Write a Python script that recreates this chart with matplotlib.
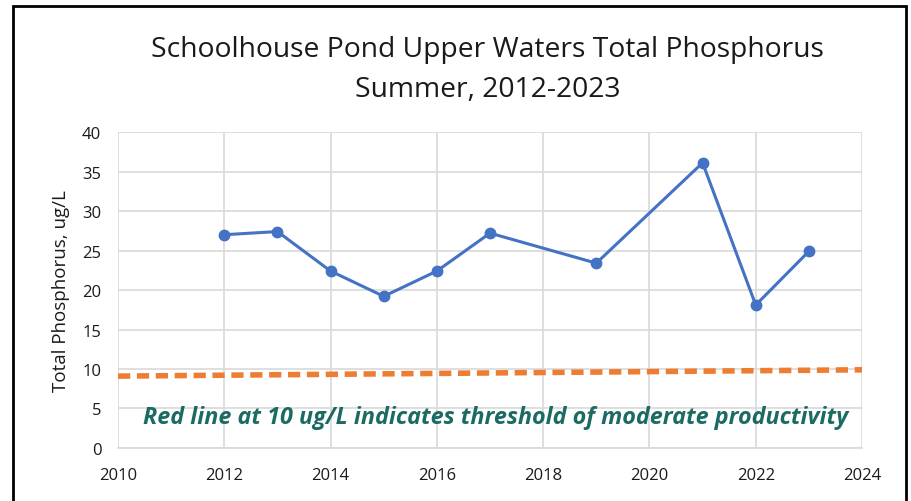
import matplotlib
matplotlib.use("Agg")
import matplotlib.pyplot as plt
from matplotlib.patches import Rectangle

years = [2012, 2013, 2014, 2015, 2016, 2017, 2019, 2021, 2022, 2023]
phosphorus = [27.0, 27.4, 22.4, 19.2, 22.4, 27.2, 23.4, 36.1, 18.1, 24.9]

threshold_x = [2010, 2024]
threshold_y = [9.1, 9.9]

x_ticks = [2010, 2012, 2014, 2016, 2018, 2020, 2022, 2024]
y_ticks = [0, 5, 10, 15, 20, 25, 30, 35, 40]

plt.rcParams['font.family'] = ['Open Sans', 'DejaVu Sans']

fig = plt.figure(figsize=(9.12, 5.02), dpi=100)
ax = fig.add_axes([0.1294, 0.1056, 0.8158, 0.6294])

# border around the whole chart
fig.patches.append(Rectangle((13 / 912, -0.05), (906 - 13) / 912, 1.05 - 7 / 502,
                             transform=fig.transFigure, fill=False,
                             edgecolor='black', linewidth=2))

ax.plot(threshold_x, threshold_y, color='#ED7D31', linewidth=4,
        dashes=(2.2, 1.2), zorder=2)
ax.plot(years, phosphorus, color='#4472C4', linewidth=2.2, marker='o',
        markersize=7.5, zorder=3)

ax.set_xlim(2010, 2024)
ax.set_ylim(0, 40)
ax.set_xticks(x_ticks)
ax.set_yticks(y_ticks)
ax.grid(True, color='#d9d9d9', linewidth=1.2)
ax.set_axisbelow(True)
for s in ax.spines.values():
    s.set_visible(False)
ax.spines['bottom'].set_visible(True)
ax.spines['bottom'].set_color('#d9d9d9')
ax.spines['bottom'].set_linewidth(1.2)
ax.tick_params(length=0, labelsize=12, colors='#1a1a1a')
ax.tick_params(axis='y', pad=12)
ax.tick_params(axis='x', pad=14)

ax.set_ylabel('Total Phosphorus, ug/L', fontsize=13.5, color='#1a1a1a', labelpad=9)

fig.text(0.535, 0.90, 'Schoolhouse Pond Upper Waters Total Phosphorus',
         ha='center', va='center', fontsize=20.3, color='#1a1a1a')
fig.text(0.535, 0.82, 'Summer, 2012-2023', ha='center', va='center',
         fontsize=20.3, color='#1a1a1a')

ax.text(2017.1, 3.9, 'Red line at 10 ug/L indicates threshold of moderate productivity',
        ha='center', va='center', fontsize=16.8, fontweight='bold',
        fontstyle='italic', color='#1B6B63')

fig.savefig('out.png', dpi=100)
